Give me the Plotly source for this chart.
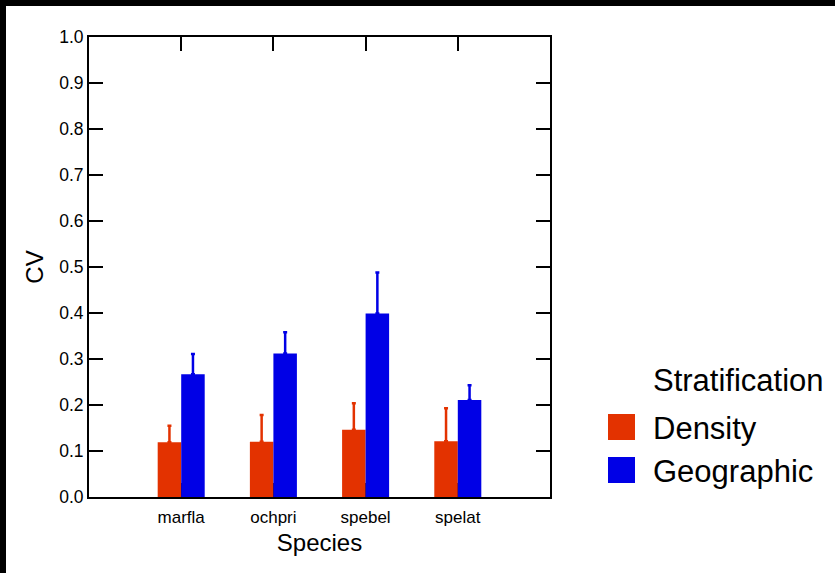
import plotly.graph_objects as go

# ---- data ----
species = ["marfla", "ochpri", "spebel", "spelat"]
density_cv = [0.119, 0.120, 0.146, 0.121]
density_err = [0.036, 0.058, 0.058, 0.072]
geographic_cv = [0.267, 0.312, 0.399, 0.211]
geographic_err = [0.044, 0.046, 0.089, 0.032]
y_ticks = [0.0, 0.1, 0.2, 0.3, 0.4, 0.5, 0.6, 0.7, 0.8, 0.9, 1.0]
legend_title = "Stratification"
series_names = ["Density", "Geographic"]

RED = "#E33200"
BLUE = "#0000E6"
FONT = "Liberation Sans, Arial, sans-serif"

W, H = 835, 573
L, R, T, B = 89, 550, 37, 497  # plot area in pixels


def px(x):
    return (x - L) / (R - L)


def py(y):
    return (B - y) / (B - T)


fig = go.Figure()
fig.add_trace(go.Bar(
    x=species, y=density_cv, name=series_names[0],
    marker=dict(color=RED, line=dict(width=0)),
    error_y=dict(type="data", array=density_err, arrayminus=[0] * len(species),
                 symmetric=False, color=RED, thickness=2.5, width=2),
))
fig.add_trace(go.Bar(
    x=species, y=geographic_cv, name=series_names[1],
    marker=dict(color=BLUE, line=dict(width=0)),
    error_y=dict(type="data", array=geographic_err, arrayminus=[0] * len(species),
                 symmetric=False, color=BLUE, thickness=2.5, width=2),
))

fig.update_layout(
    width=W, height=H,
    margin=dict(l=L, r=W - R, t=T, b=H - B, pad=0),
    paper_bgcolor="white", plot_bgcolor="white",
    barmode="group", bargap=0.49, bargroupgap=0,
    showlegend=False,
    font=dict(family=FONT, color="black"),
)

fig.update_xaxes(
    range=[-1, 4], showgrid=False, zeroline=False,
    showline=True, linecolor="black", linewidth=2, mirror="ticks",
    ticks="inside", ticklen=14, tickwidth=2, tickcolor="black",
    tickfont=dict(size=17), layer="below traces",
    ticklabelstandoff=4,
    title=dict(text="Species", font=dict(size=24), standoff=8),
)
fig.update_yaxes(
    range=[0, 1], tickvals=y_ticks, tickformat=".1f",
    showgrid=False, zeroline=False,
    showline=True, linecolor="black", linewidth=2, mirror="ticks",
    ticks="inside", ticklen=14, tickwidth=2, tickcolor="black",
    tickfont=dict(size=17.5),
    title=dict(text="CV", font=dict(size=24), standoff=9),
)

# black frame strips (top and left edges of the picture)
fig.add_shape(type="rect", xref="paper", yref="paper",
              x0=px(0), x1=px(W), y0=py(0), y1=py(6),
              fillcolor="black", line=dict(width=0), layer="above")
fig.add_shape(type="rect", xref="paper", yref="paper",
              x0=px(0), x1=px(6), y0=py(0), y1=py(H),
              fillcolor="black", line=dict(width=0), layer="above")

# manual legend
fig.add_annotation(text=legend_title, xref="paper", yref="paper",
                   x=px(651), y=py(380), xanchor="left", yanchor="middle",
                   showarrow=False, font=dict(size=31))
swatch_y = [(414, 440), (457, 483)]
colors = [RED, BLUE]
for name, col, (y0, y1) in zip(series_names, colors, swatch_y):
    fig.add_shape(type="rect", xref="paper", yref="paper",
                  x0=px(608), x1=px(635), y0=py(y1), y1=py(y0),
                  fillcolor=col, line=dict(width=0))
    fig.add_annotation(text=name, xref="paper", yref="paper",
                       x=px(651), y=py((y0 + y1) / 2 + 1), xanchor="left",
                       yanchor="middle", showarrow=False, font=dict(size=31))

fig.write_html("out.html")
